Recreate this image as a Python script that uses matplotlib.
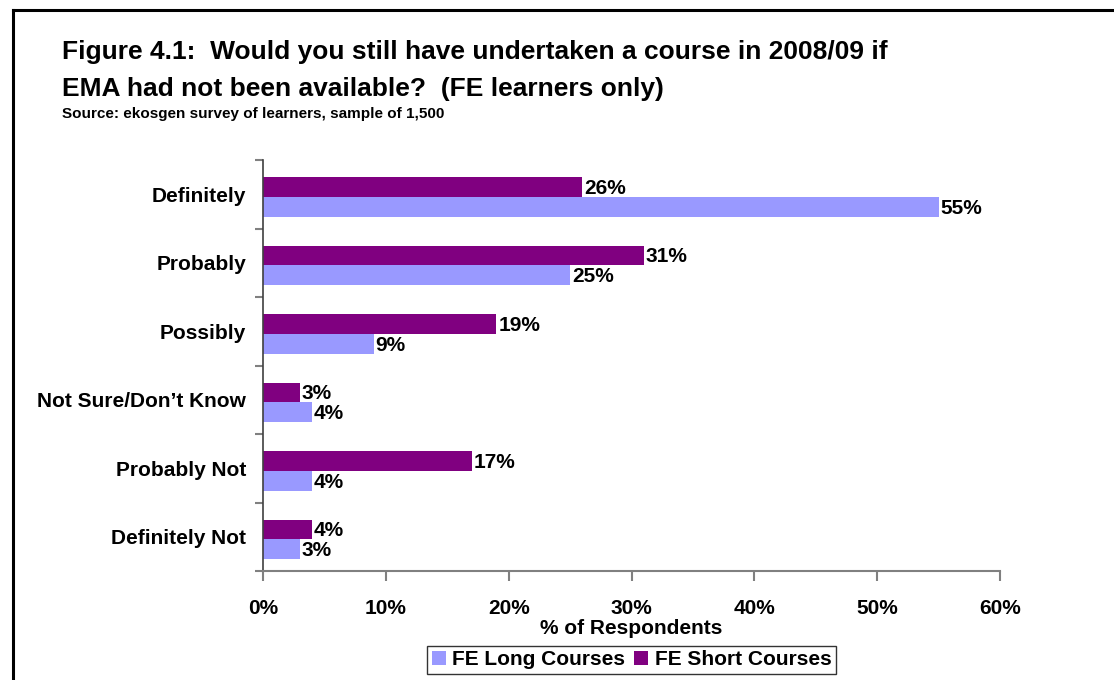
import numpy as np
import matplotlib.pyplot as plt
from matplotlib.lines import Line2D
from matplotlib.ticker import FuncFormatter

plt.rcParams['font.family'] = ['Liberation Sans', 'DejaVu Sans']
plt.rcParams['font.weight'] = 'bold'

categories = ['Definitely', 'Probably', 'Possibly', 'Not Sure/Don\u2019t Know',
              'Probably Not', 'Definitely Not']
long_courses = [55, 25, 9, 4, 4, 3]
short_courses = [26, 31, 19, 3, 17, 4]
x_ticks = [0, 10, 20, 30, 40, 50, 60]

fig = plt.figure(figsize=(11.14, 6.8), dpi=100)
ax = fig.add_axes([263 / 1114, 1 - 571 / 680, (1000 - 263) / 1114, (571 - 160) / 680])

y = np.arange(len(categories)) + 0.04
h = 0.29
b_long = ax.barh(y + h / 2, long_courses, height=h, color='#9999FF', label='FE Long Courses')
b_short = ax.barh(y - h / 2, short_courses, height=h, color='#800080', label='FE Short Courses')

for bars, vals in [(b_long, long_courses), (b_short, short_courses)]:
    for bar, v in zip(bars, vals):
        ax.text(v + 0.15, bar.get_y() + bar.get_height() / 2 + 0.02, f'{v}%',
                va='center', ha='left', fontsize=15, fontweight='bold')

ax.set_ylim(len(categories) - 0.5, -0.5)
ax.set_xlim(0, 60)
ax.set_xticks(x_ticks)
ax.xaxis.set_major_formatter(FuncFormatter(lambda v, p: f'{v:.0f}%'))
ax.set_yticks(np.arange(-0.5, len(categories), 1.0))
ax.set_yticklabels([])
ax.set_yticks(np.arange(len(categories)), minor=True)
ax.set_yticklabels(categories, minor=True)
ax.tick_params(axis='y', which='minor', length=0, pad=12, labelsize=15)
ax.tick_params(axis='y', which='major', length=6, color='#808080', width=1.5)
ax.tick_params(axis='x', length=7, color='#808080', width=1.5, pad=13, labelsize=15)

for s in ['top', 'right']:
    ax.spines[s].set_visible(False)
ax.spines['left'].set_color('#404040')
ax.spines['bottom'].set_color('#808080')
ax.spines['left'].set_linewidth(1.2)
ax.spines['bottom'].set_linewidth(1.5)

ax.set_xlabel('% of Respondents', fontsize=15, fontweight='bold', labelpad=1)

leg = ax.legend(handles=[b_long, b_short], loc='upper center', bbox_to_anchor=(0.5, -0.183),
                ncol=2, frameon=True, fancybox=False, edgecolor='black', fontsize=15,
                handlelength=0.7, handleheight=0.7, handletextpad=0.3, columnspacing=0.4,
                borderpad=0.2, borderaxespad=0)
leg.get_frame().set_linewidth(1.0)

fig.text(62 / 1114, 1 - 52 / 680, 'Figure 4.1:  Would you still have undertaken a course in 2008/09 if',
         fontsize=19, fontweight='bold', va='center')
fig.text(62 / 1114, 1 - 89 / 680, 'EMA had not been available?  (FE learners only)',
         fontsize=19, fontweight='bold', va='center')
fig.text(62 / 1114, 1 - 114 / 680, 'Source: ekosgen survey of learners, sample of 1,500',
         fontsize=11, fontweight='bold', va='center')

# outer frame
fig.add_artist(Line2D([13 / 1114, 13 / 1114], [0, 1 - 10 / 680], color='black', lw=2.2))
fig.add_artist(Line2D([13 / 1114, 1], [1 - 10 / 680, 1 - 10 / 680], color='black', lw=2.2))

fig.savefig('out.png', dpi=100)
